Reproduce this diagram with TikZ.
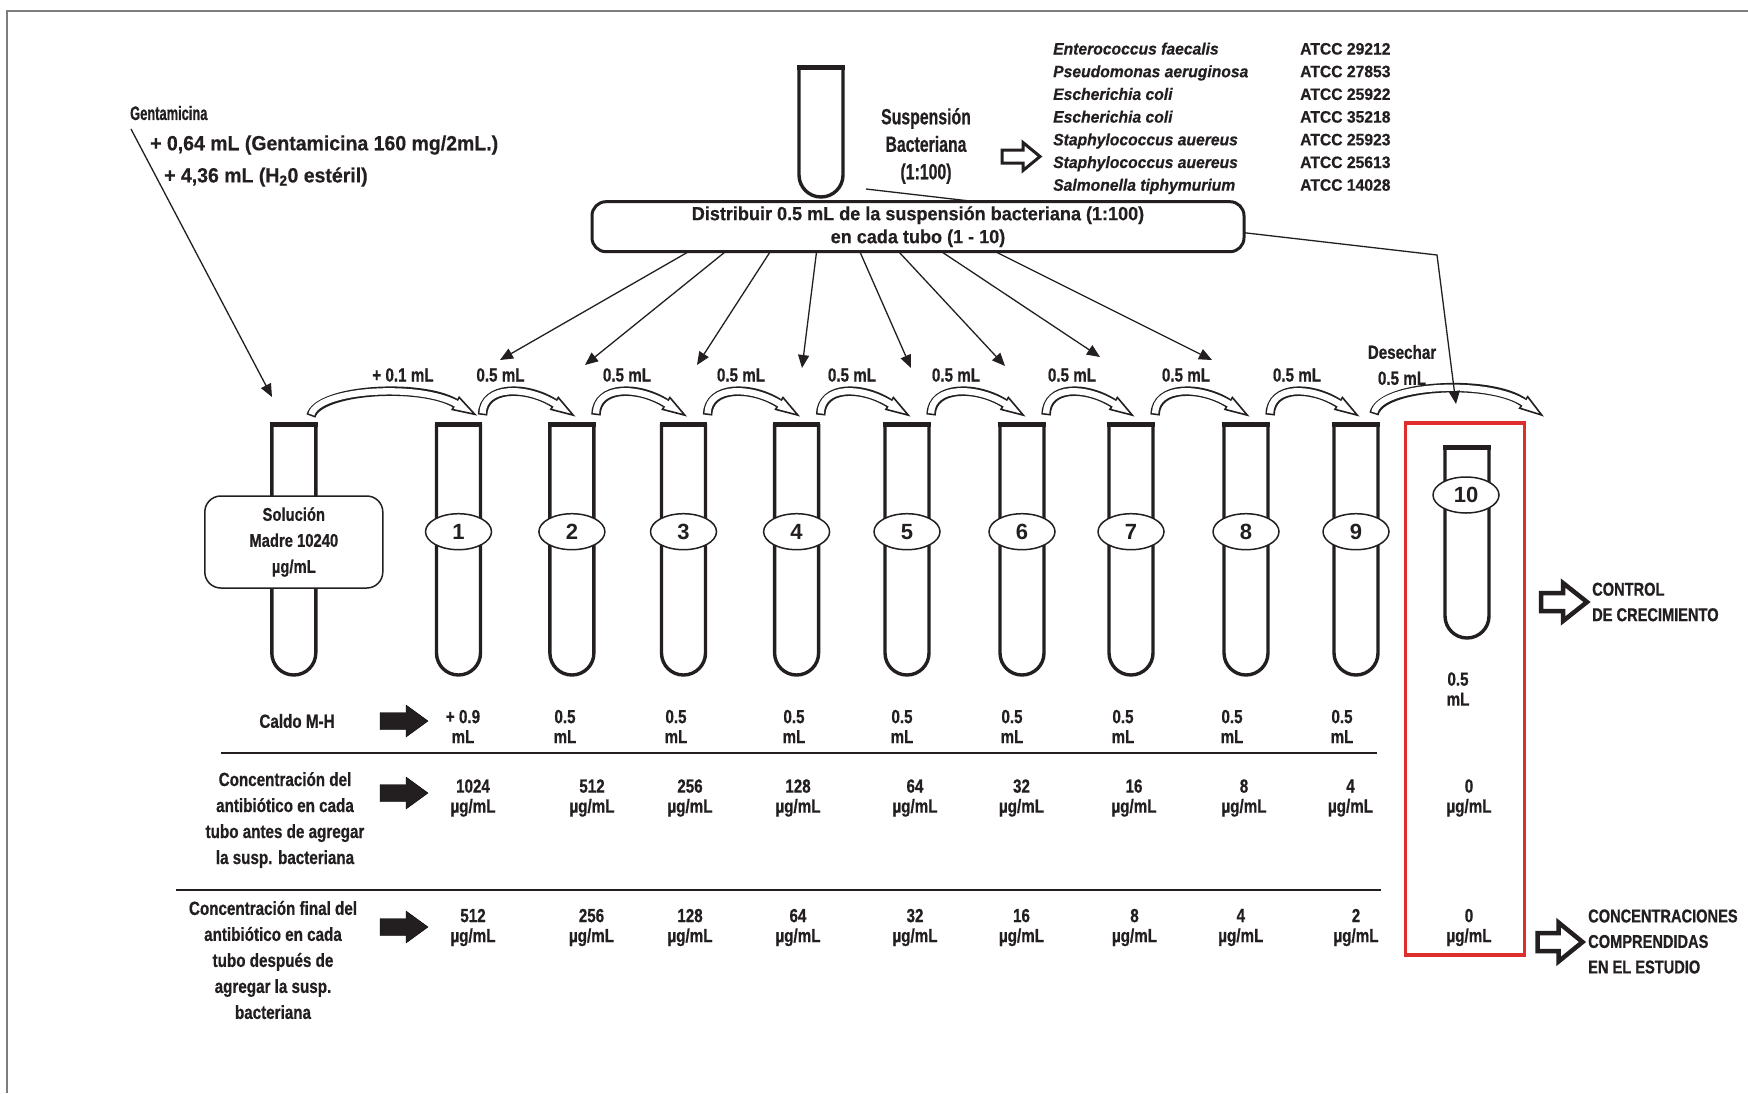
\documentclass[tikz,border=0pt]{standalone}
\usepackage{fontspec}
\setmainfont{Liberation Sans}
\newfontfamily\fA{Liberation Sans}[FakeStretch=0.80, BoldFeatures={FakeBold=0.6}]
\newfontfamily\fB{Liberation Sans}[FakeStretch=0.95, BoldFeatures={FakeBold=0.5}, BoldItalicFeatures={FakeBold=0.5}]
\newfontfamily\fC{Liberation Sans}[FakeStretch=0.72, BoldFeatures={FakeBold=0.6}]
\newfontfamily\fE{Liberation Sans}[FakeStretch=0.66, BoldFeatures={FakeBold=0.6}]
\newfontfamily\fD{Liberation Sans}[FakeStretch=0.79, BoldFeatures={FakeBold=0.8}]
\usetikzlibrary{arrows.meta,shapes.geometric,calc}
\definecolor{ink}{RGB}{35,31,32}
\definecolor{redbox}{RGB}{222,45,45}
\definecolor{framec}{RGB}{125,125,125}

\tikzset{
  tubeln/.style={draw=ink, line width=3.4pt, fill=white},
  fan/.style={draw=ink, line width=1.3pt, -{Triangle[length=13pt,width=11pt]}},
  num/.style={ellipse, draw=ink, line width=1.5pt, fill=white, minimum width=66pt, minimum height=36pt, inner sep=0pt, font=\bfseries\fontsize{22}{22}\selectfont},
  lbl/.style={font=\fA\bfseries\fontsize{19}{26}\selectfont, align=center},
  val/.style={font=\fA\bfseries\fontsize{19}{20}\selectfont, align=center},
  side/.style={font=\fD\bfseries\fontsize{18.5}{25.5}\selectfont, align=left, anchor=west},
  spn/.style={font=\fB\bfseries\itshape\fontsize{16.5}{20}\selectfont, anchor=base west},
  atc/.style={font=\fB\bfseries\fontsize{16.5}{20}\selectfont, anchor=base west},
}

\newcommand\testtube[4]{%
  \draw[tubeln] (#2-22,#3) -- (#2-22,#4-22)
     .. controls (#2-22,#4-9.85) and (#2-12.15,#4) .. (#2,#4)
     .. controls (#2+12.15,#4) and (#2+22,#4-9.85) .. (#2+22,#4-22)
     -- (#2+22,#3);
  \draw[ink, line width=5pt] (#2-23.7,#3) -- (#2+23.7,#3);
  \coordinate (#1) at (#2,#3);
}

\newcommand\hollowarc[8]{%
  \draw[ink, line width=9.5pt] (#1,#2) .. controls (#3,#4) and (#5,#6) .. (#7,#8)
     node[pos=1, sloped, anchor=lower side, isosceles triangle, isosceles triangle stretches,
          minimum width=14pt, minimum height=22pt, inner sep=0pt, draw=ink, line width=1.6pt, fill=white] {};
  \draw[white, line width=6.3pt, shorten <=1.6pt, shorten >=-2.5pt] (#1,#2) .. controls (#3,#4) and (#5,#6) .. (#7,#8);
}

\newcommand\blockarrow[7]{%
  \draw[#7] (#1-#3/2,#2-#5/2) -- (#1+#3/2-#6,#2-#5/2) -- (#1+#3/2-#6,#2-#4/2) -- (#1+#3/2,#2)
     -- (#1+#3/2-#6,#2+#4/2) -- (#1+#3/2-#6,#2+#5/2) -- (#1-#3/2,#2+#5/2) -- cycle;
}

\begin{document}
\begin{tikzpicture}[x=1pt, y=-1pt, every node/.style={text=ink, inner sep=0pt}]
\useasboundingbox (0,0) rectangle (1748,1093);
\fill[white] (0,0) rectangle (1748,1093);
\draw[framec, line width=2pt] (7,1093) -- (7,11) -- (1748,11);

% ---------- curved transfer arrows ----------
\hollowarc{311}{416}{318}{389}{420}{383}{455}{403}
\foreach \a/\b in {458.5/571.9, 571.9/683.5, 683.5/796.6, 796.6/907, 907/1022, 1022/1131, 1131/1246, 1246/1356}{
  \hollowarc{\a+24}{415}{\a+25}{385}{\b-45}{386}{\b-18}{403}
}
\hollowarc{1374}{414}{1380}{384}{1490}{379}{1523}{402}

% ---------- distribution lines ----------
\coordinate (e1) at (688,252);   \coordinate (t1) at (500,360);
\coordinate (e2) at (725,252);   \coordinate (t2) at (585,365);
\coordinate (e3) at (770,252);   \coordinate (t3) at (697,365);
\coordinate (e4) at (816.5,252); \coordinate (t4) at (802,368);
\coordinate (e5) at (860,252);   \coordinate (t5) at (911,368);
\coordinate (e6) at (899,252);   \coordinate (t6) at (1005,366);
\coordinate (e7) at (942,252);   \coordinate (t7) at (1100,357);
\coordinate (e8) at (996,252);   \coordinate (t8) at (1212,360);
\foreach \i in {1,...,8}{ \draw[fan] ($(t\i)!1.18!(e\i)$) -- (t\i); }
\coordinate (s0) at (866,189);
\coordinate (bend) at (1437,255);
\coordinate (t10) at (1456,404);
\draw[fan] (s0) -- (bend) -- (t10);

% ---------- gentamicina ----------
\node[font=\fE\bfseries\fontsize{19.5}{20}\selectfont, anchor=west] (gen) at (130,113) {Gentamicina};
\node[font=\fB\bfseries\fontsize{20.5}{20}\selectfont, anchor=west] (gen1) at (150,145) {+ 0,64 mL (Gentamicina 160 mg/2mL.)};
\node[font=\fB\bfseries\fontsize{20.5}{20}\selectfont, anchor=west] (gen2) at (164,177) {+ 4,36 mL (H\textsubscript{2}0 estéril)};
\coordinate (g0) at (131,129);
\coordinate (gt) at (272,397);
\draw[fan] (g0) -- (gt);

% ---------- suspension ----------
\testtube{sus}{821}{67}{197}
\node[font=\fC\bfseries\fontsize{22}{27.5}\selectfont, align=center] (susp) at (926,146) {Suspensión\\Bacteriana\\(1:100)};
\blockarrow{1021}{156.5}{38}{28}{13}{17}{draw=ink, line width=3pt, fill=white, line join=miter}
\foreach \sp/\at [count=\i from 0] in {Enterococcus faecalis/29212, Pseudomonas aeruginosa/27853, Escherichia coli/25922, Escherichia coli/35218, Staphylococcus auereus/25923, Staphylococcus auereus/25613, Salmonella tiphymurium/14028}{
  \node[spn] (sp\i) at (1053,54.5+22.7*\i) {\sp};
  \node[atc] (at\i) at (1300,54.5+22.7*\i) {ATCC \at};
}

\node[draw=ink, line width=3pt, fill=white, rounded corners=14pt, minimum width=652pt, minimum height=50pt,
      font=\fB\bfseries\fontsize{19}{23}\selectfont, align=center] (dist) at (918,226.7)
      {Distribuir 0.5 mL de la suspensión bacteriana (1:100)\\en cada tubo (1 - 10)};

% ---------- tubes ----------
\testtube{stock}{293.8}{424}{675}
\node[draw=ink, line width=1.5pt, fill=white, rounded corners=16pt, minimum width=178pt, minimum height=92pt,
      font=\fA\bfseries\fontsize{18.5}{26}\selectfont, align=center] (madre) at (293.8,542) {Solución\\Madre 10240\\µg/mL};
\foreach \x [count=\i] in {458.5, 571.9, 683.5, 796.6, 907, 1022, 1131, 1246, 1356}{
  \testtube{tube\i}{\x}{424}{675}
  \node[num] (n\i) at (\x,531.7) {\i};
}
\node[draw=redbox, line width=3.5pt, minimum width=119pt, minimum height=532pt] (ctrl) at (1465.2,689) {};
\testtube{tube10}{1467}{447}{638}
\node[num] (n10) at (1466,495) {10};

% ---------- transfer labels ----------
\node[lbl] (p01) at (403,375) {+ 0.1 mL};
\foreach \x [count=\i] in {500.5, 627, 741, 852, 956, 1072, 1186, 1297}{
  \node[lbl] (v\i) at (\x,375) {0.5 mL};
}
\node[lbl] (des) at (1402,365) {Desechar\\0.5 mL};

% ---------- table ----------
\node[lbl] (caldo) at (297,721) {Caldo M-H};
\node[lbl] (conc1) at (285,820) {Concentración del\\antibiótico en cada\\tubo antes de agregar\\la susp. bacteriana};
\node[lbl] (conc2) at (273,960) {Concentración final del\\antibiótico en cada\\tubo después de\\agregar la susp.\\bacteriana};
\blockarrow{404}{721}{48}{32}{17}{22}{fill=ink}
\blockarrow{404}{793}{48}{32}{17}{22}{fill=ink}
\blockarrow{404}{927}{48}{32}{17}{22}{fill=ink}

\node[val] (c1) at (463,726.5) {+ 0.9\\mL};
\foreach \x [count=\i from 2] in {565, 676, 794, 902, 1012, 1123, 1232, 1342}{
  \node[val] (c\i) at (\x,726.5) {0.5\\mL};
}
\node[val] (c10) at (1458,689) {0.5\\mL};

\coordinate (l1a) at (221,753); \coordinate (l1b) at (1377,753);
\coordinate (l2a) at (176,890); \coordinate (l2b) at (1381,890);
\draw[ink, line width=2.6pt] (l1a) -- (l1b);
\draw[ink, line width=2.6pt] (l2a) -- (l2b);

\foreach \x/\v [count=\i] in {473/1024, 592/512, 690/256, 798/128, 915/64, 1021.5/32, 1134/16, 1244/8, 1350.5/4, 1469/0}{
  \node[val] (a\i) at (\x,798) {\v\\µg/mL};
}
\foreach \x/\v [count=\i] in {473/512, 591.5/256, 690/128, 798/64, 915/32, 1021.5/16, 1134.5/8, 1240.8/4, 1356/2, 1469/0}{
  \node[val] (f\i) at (\x,927.5) {\v\\µg/mL};
}

% ---------- side notes ----------
\blockarrow{1564}{602}{46}{38}{18}{24}{draw=ink, line width=4.5pt, fill=white, line join=miter}
\node[side] (ctl) at (1592,602) {CONTROL\\DE CRECIMIENTO};
\blockarrow{1560}{942}{45}{39}{18}{24}{draw=ink, line width=4.5pt, fill=white, line join=miter}
\node[side] (cc) at (1588,941.5) {CONCENTRACIONES\\COMPRENDIDAS\\EN EL ESTUDIO};
\end{tikzpicture}
\end{document}
